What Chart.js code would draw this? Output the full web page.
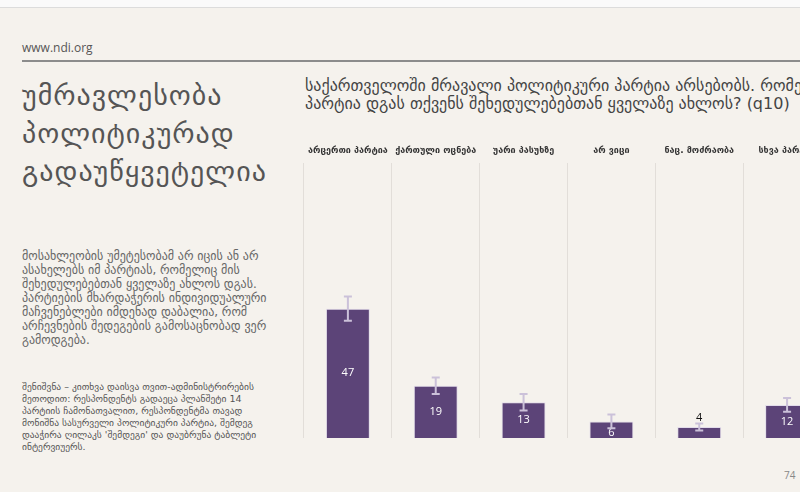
<!DOCTYPE html>
<html>
<head>
<meta charset="utf-8">
<script src="https://cdn.jsdelivr.net/npm/chart.js@4/dist/chart.umd.min.js"></script>
<style>
  html, body { margin: 0; padding: 0; }
  body {
    width: 800px; height: 492px; overflow: hidden; position: relative;
    background: #f5f2ed; font-family: "DejaVu Sans", sans-serif;
  }
  .topbar { position: absolute; left: 0; top: 0; width: 800px; height: 7px; background: #fafafa; border-bottom: 1px solid #dcdcdc; }
  .site { position: absolute; left: 22px; top: 39px; font-family: "Open Sans", sans-serif; font-size: 12px; color: #555; }
  .rule { position: absolute; left: 22px; top: 60px; width: 778px; height: 2px; background: #8c8c8c; }
  .headline { position: absolute; left: 22px; top: 77px; font-size: 28px; letter-spacing: 1px; line-height: 38px; color: #555; white-space: nowrap; }
  .para { position: absolute; left: 22px; top: 249px; font-size: 12px; line-height: 14px; color: #666; white-space: nowrap; }
  .note { position: absolute; left: 22px; top: 381px; font-size: 9.5px; line-height: 12px; color: #555; white-space: nowrap; }
  .qtitle { position: absolute; left: 305px; top: 77px; font-size: 16px; line-height: 18px; color: #444; white-space: nowrap; }
  .page { position: absolute; left: 784px; top: 468px; font-family: "Open Sans", sans-serif; font-size: 10px; color: #888; }
  .chartbox { position: absolute; left: 301px; top: 138px; width: 530px; height: 300px; }
</style>
</head>
<body>
<div class="topbar"></div>
<div class="site">www.ndi.org</div>
<div class="rule"></div>
<div class="headline">უმრავლესობა<br>პოლიტიკურად<br>გადაუწყვეტელია</div>
<div class="para">მოსახლეობის უმეტესობამ არ იცის ან არ<br>ასახელებს იმ პარტიას, რომელიც მის<br>შეხედულებებთან ყველაზე ახლოს დგას.<br>პარტიების მხარდაჭერის ინდივიდუალური<br>მაჩვენებლები იმდენად დაბალია, რომ<br>არჩევნების შედეგების გამოსაცნობად ვერ<br>გამოდგება.</div>
<div class="note">შენიშვნა – კითხვა დაისვა თვით-ადმინისტრირების<br>მეთოდით: რესპონდენტს გადაეცა პლანშეტი 14<br>პარტიის ჩამონათვალით, რესპონდენტმა თავად<br>მონიშნა სასურველი პოლიტიკური პარტია, შემდეგ<br>დააჭირა ღილაკს  'შემდეგი' და დაუბრუნა ტაბლეტი<br>ინტერვიუერს.</div>
<div class="qtitle">საქართველოში მრავალი პოლიტიკური პარტია არსებობს. რომელი<br>პარტია დგას თქვენს შეხედულებებთან ყველაზე ახლოს? (q10)</div>
<div class="page">74</div>
<div class="chartbox"><canvas id="partyChart"></canvas></div>

<script>
// მონაცემები (%)
const categories = ['არცერთი პარტია', 'ქართული ოცნება', 'უარი პასუხზე', 'არ ვიცი', 'ნაც. მოძრაობა', 'სხვა პარტია'];
const values = [47, 19, 13, 6, 4, 12];
// ცდომილება (+/-)
const errors = [4.4, 3, 3, 2.5, 1.3, 2.5];

// error bars + value labels
const barExtras = {
    id: 'barExtras',
    afterDatasetsDraw(chart) {
        const ctx = chart.ctx;
        const y = chart.scales.y;
        const meta = chart.getDatasetMeta(0);
        ctx.save();
        meta.data.forEach((bar, i) => {
            const v = values[i];
            // label
            ctx.font = '11px "Open Sans", sans-serif';
            ctx.textAlign = 'center';
            ctx.textBaseline = 'middle';
            if (v >= 5) {
                ctx.fillStyle = '#ffffff';
                let ly = (bar.y + bar.base) / 2;
                if (v < 8) ly += 3;
                ctx.fillText(v, bar.x, ly);
            } else {
                ctx.fillStyle = '#111111';
                ctx.fillText(v, bar.x, bar.y - 9);
            }
            // error bar
            const top = y.getPixelForValue(v + errors[i]);
            const bot = y.getPixelForValue(v - errors[i]);
            ctx.strokeStyle = '#cbc1d9';
            ctx.lineWidth = 2;
            ctx.beginPath();
            ctx.moveTo(bar.x, top); ctx.lineTo(bar.x, bot);
            ctx.moveTo(bar.x - 4, top); ctx.lineTo(bar.x + 4, top);
            ctx.moveTo(bar.x - 4, bot); ctx.lineTo(bar.x + 4, bot);
            ctx.stroke();
        });
        ctx.restore();
    }
};

const ctx = document.getElementById('partyChart').getContext('2d');
const partyChart = new Chart(ctx, {
    type: 'bar',
    data: {
        labels: categories,
        datasets: [{
            data: values,
            backgroundColor: '#5c4478',
            borderColor: '#e2dcea',
            borderWidth: 1,
            categoryPercentage: 1,
            barPercentage: 0.5
        }]
    },
    options: {
        responsive: true,
        maintainAspectRatio: false,
        animation: false,
        layout: { padding: 0 },
        plugins: { legend: { display: false }, tooltip: { enabled: false } },
        scales: {
            x: {
                position: 'top',
                border: { display: false },
                grid: { color: '#e2ded9', lineWidth: 1, drawTicks: false, offset: true },
                ticks: {
                    color: '#333',
                    font: { family: '"DejaVu Sans", sans-serif', size: 9, weight: 'bold' },
                    padding: 7,
                    maxRotation: 0,
                    autoSkip: false
                }
            },
            y: {
                display: false,
                min: 0,
                max: 100
            }
        }
    },
    plugins: [barExtras]
});
</script>
</body>
</html>
